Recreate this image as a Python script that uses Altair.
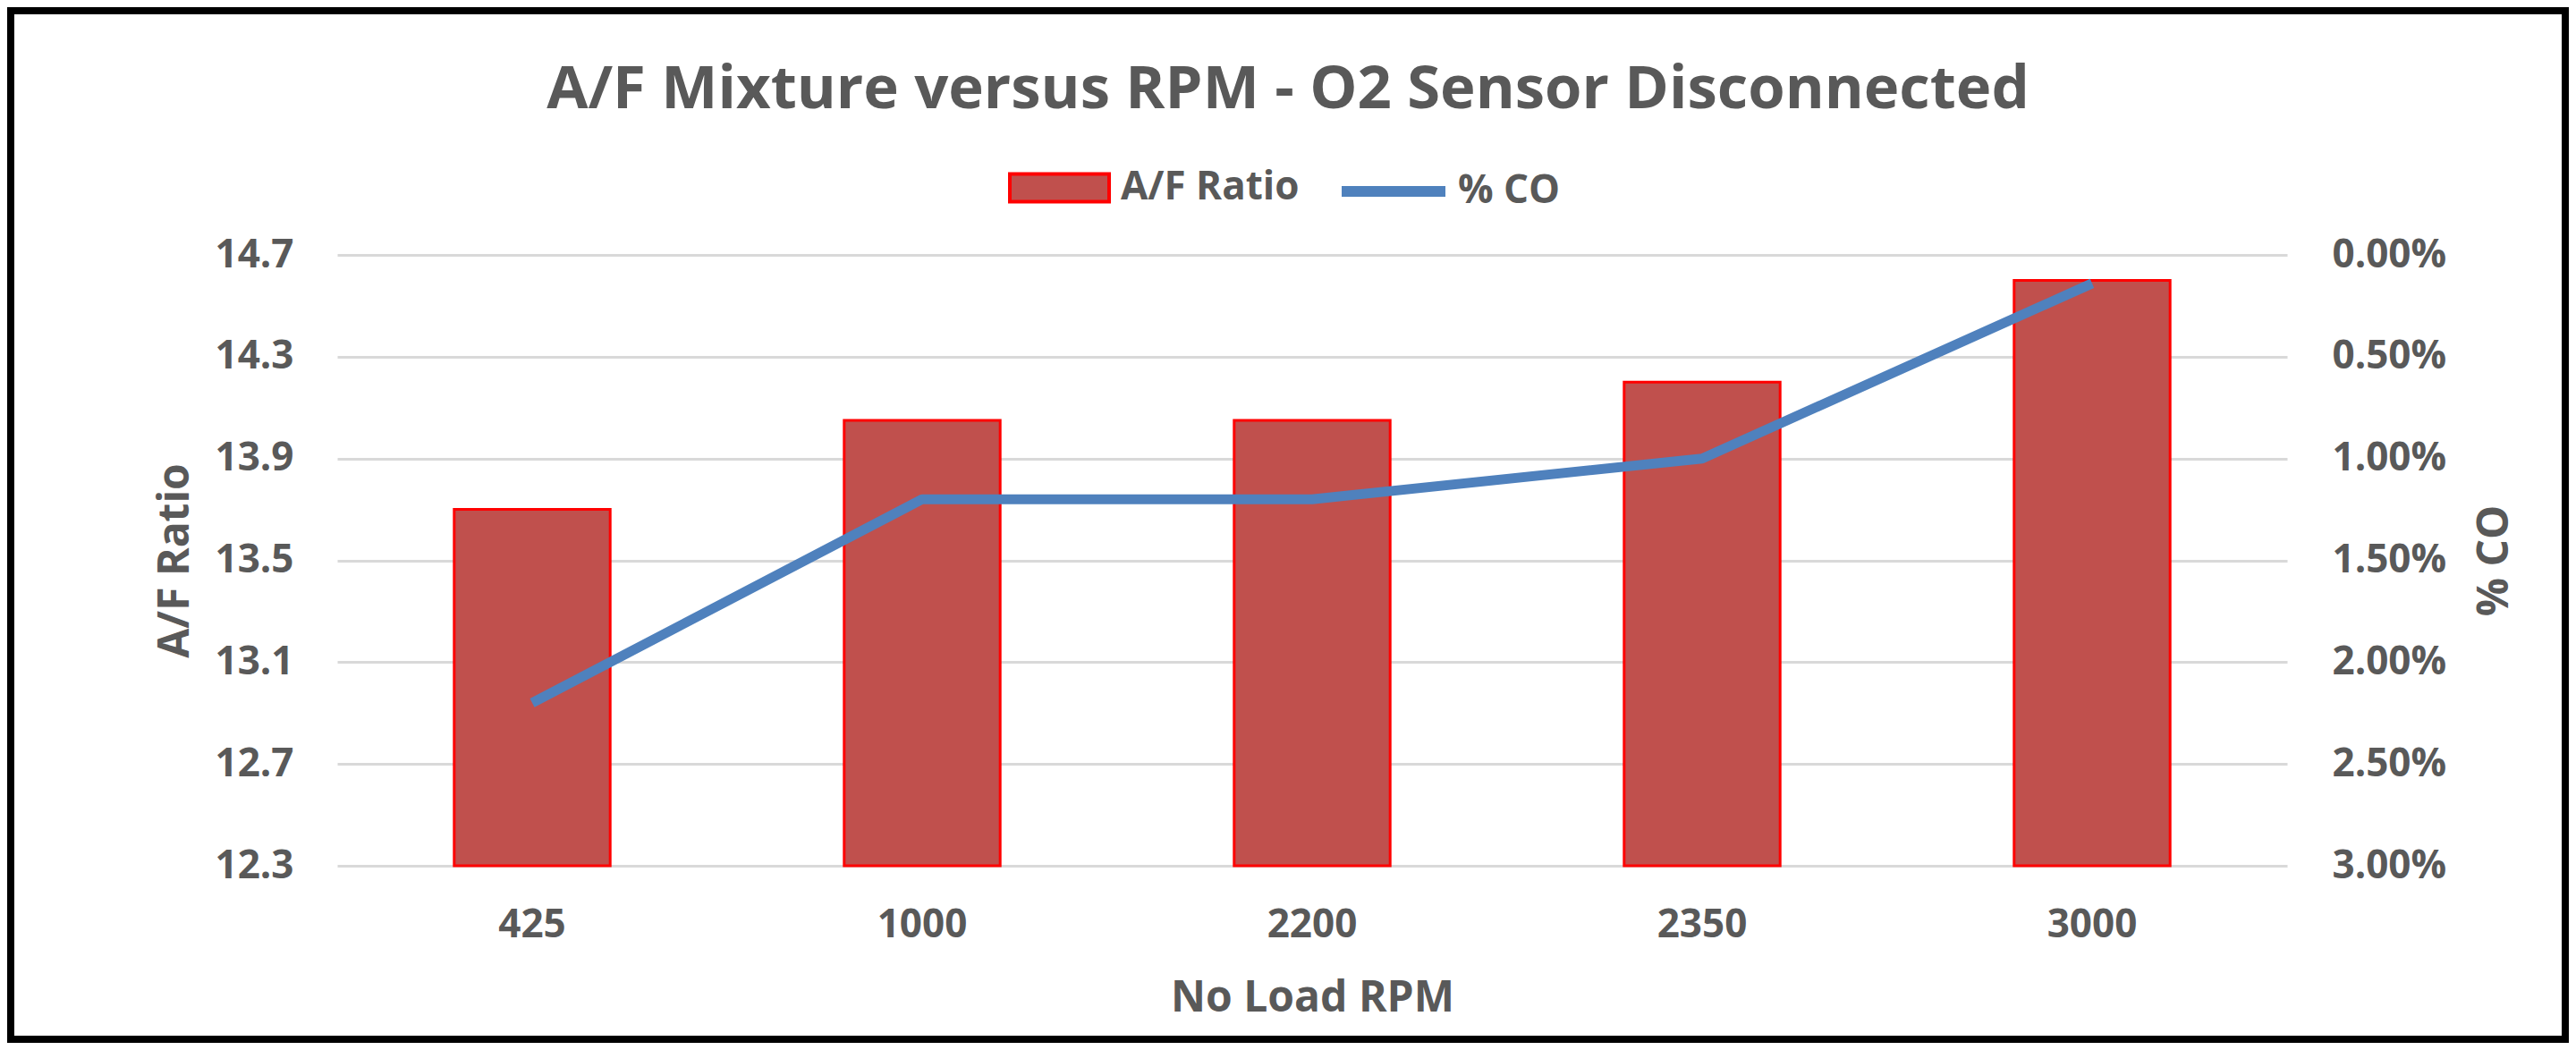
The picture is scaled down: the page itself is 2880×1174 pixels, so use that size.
import altair as alt
import pandas as pd

# ---- data ----
rpm = ["425", "1000", "2200", "2350", "3000"]
af_ratio = [13.7, 14.05, 14.05, 14.2, 14.6]
co_pct = [0.022, 0.012, 0.012, 0.010, 0.0014]
af_ticks = [12.3, 12.7, 13.1, 13.5, 13.9, 14.3, 14.7]
co_ticks = [0.0, 0.005, 0.01, 0.015, 0.02, 0.025, 0.03]

df = pd.DataFrame({"rpm": rpm, "af": af_ratio, "co": co_pct})

FONT = "Open Sans"
GREY = "#595959"
W, H = 2180, 683

base = alt.Chart(df).transform_calculate(
    series_af="'A/F Ratio'", series_co="'% CO'"
)

x_enc = alt.X(
    "rpm:N", sort=rpm,
    scale=alt.Scale(paddingInner=0.6, paddingOuter=0.3),
    axis=alt.Axis(title="No Load RPM", labelAngle=0, domain=False, ticks=False,
                  labelPadding=44, titleX=W / 2, titleY=162,
                  titleBaseline="alphabetic", titleAlign="center"),
)

leg_common = dict(orient="none", title=None, labelFont=FONT, labelFontSize=44,
                  labelFontWeight="bold", labelColor=GREY, labelLimit=500,
                  padding=0, symbolOpacity=1)

bars = base.mark_bar(stroke="#FF0000", strokeWidth=3).encode(
    x=x_enc,
    y=alt.Y("af:Q",
            scale=alt.Scale(domain=[af_ticks[0], af_ticks[-1]], zero=False, nice=False),
            axis=alt.Axis(title="A/F Ratio", orient="left", values=af_ticks, format=".1f",
                          grid=True, gridColor="#D9D9D9", gridWidth=3,
                          domain=False, ticks=False, labelPadding=49,
                          titleAngle=270, titleX=-167, titleY=H / 2,
                          titleBaseline="alphabetic", titleAlign="center")),
    y2=alt.datum(af_ticks[0]),
    fill=alt.Fill("series_af:N",
                  scale=alt.Scale(domain=["A/F Ratio"], range=["#C0504D"]),
                  legend=alt.Legend(**leg_common, legendX=750, legendY=-132.5,
                                    symbolType="M-1,-0.28L1,-0.28L1,0.28L-1,0.28Z",
                                    symbolSize=12321, symbolStrokeColor="#FF0000",
                                    symbolStrokeWidth=4, labelOffset=11)),
)

line = base.mark_line(strokeWidth=11, strokeJoin="round").encode(
    x=x_enc,
    y=alt.Y("co:Q",
            scale=alt.Scale(domain=[co_ticks[0], co_ticks[-1]], reverse=True, zero=False, nice=False),
            axis=alt.Axis(title="% CO", orient="right", values=co_ticks, format=".2%",
                          grid=False, domain=False, ticks=False, labelPadding=50,
                          titleAngle=270, titleX=246, titleY=H / 2,
                          titleBaseline="alphabetic", titleAlign="center")),
    stroke=alt.Stroke("series_co:N",
                      scale=alt.Scale(domain=["% CO"], range=["#4F81BD"]),
                      legend=alt.Legend(**leg_common, legendX=1117, legendY=-135,
                                        symbolType="stroke", symbolSize=13456,
                                        symbolStrokeWidth=12, labelOffset=8)),
)

frame = alt.Chart(pd.DataFrame({"frame": [0]})).mark_rect(
    fillOpacity=0, stroke="black", strokeWidth=8
).encode(
    x=alt.value(-365), x2=alt.value(2491),
    y=alt.value(-273), y2=alt.value(877),
)

chart = alt.layer(bars, line, frame).resolve_scale(y="independent").properties(
    width=W, height=H,
    autosize=alt.AutoSizeParams(type="none"),
    padding={"left": 369, "top": 277, "right": 315, "bottom": 198},
    background="white",
    title=alt.TitleParams(text="A/F Mixture versus RPM - O2 Sensor Disconnected",
                          font=FONT, fontSize=67, fontWeight="bold", color=GREY,
                          anchor="middle", dx=-27, offset=0, dy=127),
).configure_view(strokeWidth=0).configure_axis(
    labelFont=FONT, labelFontSize=44, labelFontWeight="bold", labelColor=GREY,
    titleFont=FONT, titleFontSize=48, titleFontWeight="bold", titleColor=GREY,
    tickSize=0,
)

chart.save("out.html", embed_options={"renderer": "svg", "actions": False})
